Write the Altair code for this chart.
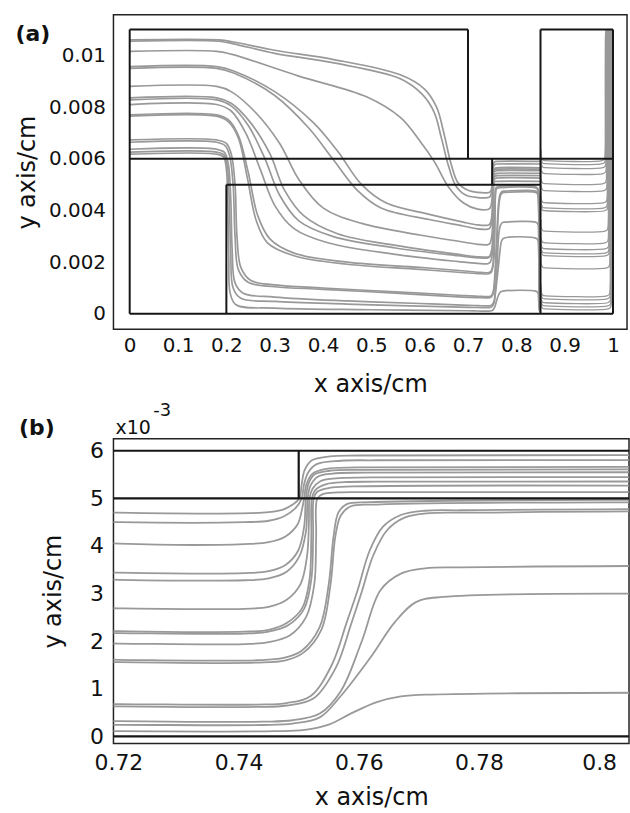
import altair as alt
import pandas as pd

# ---------------- data (x in cm, y in units of 1e-3 cm) ----------------
# streamlines entering at the left inlet, passing the channel, rising at x=0.75
S01 = [(0, 10.6), (0.185, 10.6), (0.215, 10.52), (0.3, 10.2), (0.42, 9.85), (0.56, 9.25), (0.61, 8.7), (0.635, 8.0), (0.65, 7.0), (0.665, 5.8), (0.68, 5.05), (0.70, 4.78), (0.72, 4.7), (0.742, 4.69), (0.745, 4.71), (0.7475, 4.77), (0.749, 4.87), (0.7501, 5.0), (0.7505, 5.3), (0.751, 5.6), (0.7522, 5.8), (0.7552, 5.88), (0.76, 5.9), (0.849, 5.9)]
S02 = [(0, 10.55), (0.185, 10.55), (0.215, 10.45), (0.3, 10.08), (0.42, 9.72), (0.56, 9.1), (0.605, 8.5), (0.63, 7.8), (0.645, 6.8), (0.66, 5.7), (0.675, 4.95), (0.695, 4.6), (0.72, 4.5), (0.741, 4.5), (0.745, 4.53), (0.7475, 4.62), (0.7495, 4.8), (0.7505, 5.0), (0.7509, 5.3), (0.7516, 5.55), (0.753, 5.72), (0.757, 5.79), (0.763, 5.8), (0.849, 5.8)]
S03 = [(0, 10.16), (0.18, 10.16), (0.21, 10.05), (0.35, 9.2), (0.49, 8.4), (0.56, 7.6), (0.6, 6.7), (0.63, 5.9), (0.66, 4.9), (0.69, 4.3), (0.72, 4.05), (0.741, 4.04), (0.745, 4.08), (0.7478, 4.2), (0.7498, 4.45), (0.7506, 4.8), (0.7509, 5.0), (0.7513, 5.3), (0.7523, 5.52), (0.7546, 5.62), (0.76, 5.65), (0.849, 5.65)]
S04 = [(0, 9.57), (0.18, 9.57), (0.215, 9.4), (0.3, 8.6), (0.38, 7.4), (0.43, 6.3), (0.48, 5.0), (0.53, 4.3), (0.62, 3.85), (0.69, 3.55), (0.72, 3.44), (0.741, 3.43), (0.745, 3.47), (0.7478, 3.6), (0.7499, 3.9), (0.7509, 4.4), (0.7512, 5.0), (0.7516, 5.3), (0.7526, 5.5), (0.7551, 5.58), (0.761, 5.6), (0.849, 5.6)]
S05 = [(0, 9.5), (0.18, 9.5), (0.215, 9.32), (0.3, 8.45), (0.37, 7.2), (0.42, 6.0), (0.47, 4.8), (0.52, 4.1), (0.62, 3.65), (0.69, 3.4), (0.72, 3.29), (0.741, 3.28), (0.745, 3.32), (0.748, 3.46), (0.7501, 3.78), (0.7512, 4.3), (0.7515, 5.0), (0.7519, 5.25), (0.7531, 5.45), (0.7556, 5.52), (0.761, 5.54), (0.849, 5.54)]
S06 = [(0, 8.8), (0.18, 8.8), (0.21, 8.6), (0.26, 7.8), (0.31, 6.6), (0.35, 5.2), (0.4, 4.1), (0.48, 3.5), (0.6, 3.05), (0.69, 2.78), (0.72, 2.69), (0.741, 2.68), (0.745, 2.72), (0.748, 2.87), (0.7503, 3.2), (0.7514, 3.8), (0.7517, 4.5), (0.7518, 5.0), (0.7523, 5.2), (0.7536, 5.36), (0.7561, 5.42), (0.762, 5.44), (0.849, 5.44)]
S07 = [(0, 8.36), (0.18, 8.36), (0.21, 8.15), (0.25, 7.4), (0.29, 6.2), (0.32, 4.8), (0.36, 3.8), (0.43, 3.1), (0.55, 2.65), (0.68, 2.3), (0.72, 2.21), (0.741, 2.2), (0.745, 2.24), (0.748, 2.38), (0.7506, 2.7), (0.7518, 3.3), (0.7521, 4.2), (0.7522, 5.0), (0.7528, 5.18), (0.7546, 5.3), (0.7576, 5.34), (0.763, 5.35), (0.849, 5.35)]
S08 = [(0, 8.28), (0.18, 8.28), (0.21, 8.05), (0.245, 7.3), (0.28, 6.0), (0.31, 4.6), (0.35, 3.6), (0.42, 3.0), (0.55, 2.55), (0.68, 2.25), (0.72, 2.17), (0.741, 2.16), (0.745, 2.2), (0.7483, 2.34), (0.7509, 2.68), (0.7521, 3.3), (0.7524, 4.2), (0.7525, 5.0), (0.7531, 5.14), (0.7551, 5.22), (0.759, 5.25), (0.849, 5.25)]
S09 = [(0, 8.1), (0.18, 8.1), (0.21, 7.85), (0.24, 7.0), (0.27, 5.6), (0.3, 4.2), (0.34, 3.3), (0.41, 2.75), (0.55, 2.3), (0.68, 2.02), (0.72, 1.95), (0.741, 1.94), (0.745, 1.98), (0.7485, 2.12), (0.7512, 2.5), (0.7526, 3.2), (0.7529, 4.2), (0.7531, 5.0), (0.754, 5.09), (0.7565, 5.125), (0.762, 5.13), (0.849, 5.13)]
S10 = [(0, 7.7), (0.18, 7.7), (0.205, 7.5), (0.225, 6.9), (0.245, 5.5), (0.265, 3.8), (0.29, 2.9), (0.34, 2.35), (0.45, 2.0), (0.6, 1.8), (0.7, 1.65), (0.72, 1.61), (0.743, 1.6), (0.7475, 1.65), (0.7505, 1.8), (0.7535, 2.3), (0.755, 3.2), (0.7558, 4.2), (0.7566, 4.7), (0.758, 4.88), (0.762, 4.92), (0.84, 4.92), (0.8445, 4.85), (0.8465, 4.5), (0.8475, 3.0), (0.848, 0.6), (0.849, 0.3)]
S11 = [(0, 7.65), (0.18, 7.65), (0.205, 7.42), (0.225, 6.8), (0.243, 5.3), (0.262, 3.6), (0.285, 2.75), (0.34, 2.25), (0.45, 1.92), (0.6, 1.72), (0.7, 1.58), (0.72, 1.56), (0.743, 1.55), (0.7478, 1.6), (0.7508, 1.76), (0.7538, 2.25), (0.7553, 3.2), (0.7561, 4.2), (0.757, 4.64), (0.7586, 4.83), (0.763, 4.87), (0.84, 4.87), (0.8443, 4.8), (0.8463, 4.4), (0.8473, 3.0), (0.8478, 0.6), (0.8488, 0.25)]
S12 = [(0, 6.73), (0.18, 6.73), (0.2, 6.6), (0.21, 6.2), (0.218, 5.0), (0.222, 3.0), (0.23, 1.8), (0.25, 1.3), (0.3, 1.12), (0.4, 1.0), (0.55, 0.85), (0.68, 0.72), (0.72, 0.68), (0.743, 0.67), (0.748, 0.7), (0.752, 0.85), (0.7555, 1.5), (0.758, 2.4), (0.7598, 3.07), (0.7618, 3.9), (0.764, 4.4), (0.767, 4.65), (0.771, 4.74), (0.777, 4.75), (0.84, 4.75), (0.8443, 4.68), (0.846, 4.3), (0.847, 2.5), (0.8475, 0.5), (0.8485, 0.2)]
S13 = [(0, 6.64), (0.18, 6.64), (0.198, 6.5), (0.207, 6.1), (0.214, 5.0), (0.218, 3.0), (0.225, 1.7), (0.245, 1.22), (0.3, 1.05), (0.4, 0.95), (0.55, 0.8), (0.68, 0.66), (0.72, 0.63), (0.743, 0.62), (0.748, 0.65), (0.7525, 0.8), (0.7562, 1.45), (0.7587, 2.35), (0.7604, 3.0), (0.7624, 3.8), (0.7647, 4.33), (0.7677, 4.6), (0.7718, 4.69), (0.778, 4.7), (0.84, 4.7), (0.8441, 4.63), (0.8458, 4.25), (0.8468, 2.5), (0.8473, 0.5), (0.8483, 0.18)]
S14 = [(0, 6.37), (0.18, 6.37), (0.196, 6.25), (0.204, 5.8), (0.209, 4.5), (0.212, 2.5), (0.218, 1.2), (0.235, 0.8), (0.3, 0.65), (0.45, 0.5), (0.6, 0.4), (0.7, 0.33), (0.72, 0.32), (0.744, 0.31), (0.749, 0.34), (0.7535, 0.48), (0.757, 0.95), (0.7605, 2.0), (0.7636, 3.07), (0.767, 3.42), (0.771, 3.53), (0.777, 3.55), (0.84, 3.55), (0.8445, 3.48), (0.846, 3.1), (0.847, 1.8), (0.8478, 0.4), (0.849, 0.15)]
S15 = [(0, 6.26), (0.18, 6.26), (0.195, 6.15), (0.202, 5.7), (0.206, 4.4), (0.209, 2.4), (0.214, 1.0), (0.23, 0.6), (0.3, 0.48), (0.45, 0.38), (0.6, 0.3), (0.7, 0.25), (0.72, 0.245), (0.744, 0.24), (0.749, 0.27), (0.7535, 0.4), (0.757, 0.85), (0.762, 1.67), (0.766, 2.4), (0.7695, 2.82), (0.774, 2.93), (0.84, 2.93), (0.8445, 2.86), (0.846, 2.5), (0.847, 1.4), (0.8478, 0.35), (0.849, 0.12)]
S16 = [(0, 6.18), (0.18, 6.18), (0.194, 6.08), (0.2, 5.6), (0.203, 4.3), (0.205, 2.2), (0.208, 0.8), (0.22, 0.35), (0.3, 0.22), (0.5, 0.16), (0.7, 0.12), (0.72, 0.11), (0.746, 0.11), (0.751, 0.14), (0.755, 0.25), (0.759, 0.5), (0.763, 0.72), (0.767, 0.84), (0.772, 0.88), (0.84, 0.88), (0.8445, 0.82), (0.846, 0.6), (0.8475, 0.15), (0.849, 0.08)]
MAIN_LINES = [S01, S02, S03, S04, S05, S06, S07, S08, S09, S10, S11, S12, S13, S14, S15, S16]

# streamlines of the outlet zone (0.85 < x < 1): level, and x where they turn up
RIGHT_LEVELS = [5.93, 5.81, 5.66, 5.43, 5.04, 4.77, 4.3, 4.1, 3.99, 3.2, 2.75, 2.52, 2.36, 2.25, 1.78, 0.7, 0.58, 0.43, 0.31, 0.19]
RIGHT_RISE_X = [0.984, 0.985, 0.986, 0.9865, 0.987, 0.988, 0.9885, 0.989, 0.99, 0.9905, 0.991, 0.992, 0.9925, 0.993, 0.994, 0.9945, 0.995, 0.996, 0.9965, 0.997]

# black domain boundaries (x1, y1, x2, y2)
WALL_X1 = [0, 0, 0, 0.7, 0, 0.2, 0.2, 0.75, 0.85, 0.85, 1]
WALL_Y1 = [0, 0, 11, 6, 6, 0, 5, 5, 0, 11, 0]
WALL_X2 = [1, 0, 0.7, 0.7, 1, 0.2, 0.85, 0.75, 0.85, 1, 1]
WALL_Y2 = [0, 11, 11, 11, 6, 5, 5, 6, 11, 11, 11]

XA_TICKS = [0, 0.1, 0.2, 0.3, 0.4, 0.5, 0.6, 0.7, 0.8, 0.9, 1]
YA_TICKS = [0, 2, 4, 6, 8, 10]
XB_TICKS = [0.72, 0.74, 0.76, 0.78, 0.8]
YB_TICKS = [0, 1, 2, 3, 4, 5, 6]
PANEL_LABELS = ["(a)", "(b)"]
EXPONENT = ["x10", "-3"]

# ---------------- tables ----------------
rows = []
for k, pts in enumerate(MAIN_LINES):
    for i, (x, y) in enumerate(pts):
        rows.append({"line": f"m{k}", "zone": "main", "i": i, "x": x, "y": y})
for k, (lev, rx) in enumerate(zip(RIGHT_LEVELS, RIGHT_RISE_X)):
    path = [(0.8508, lev + 0.45), (0.8518, lev + 0.12), (0.855, lev + 0.015), (0.86, lev),
            (rx - 0.007, lev), (rx - 0.002, lev + 0.06), (rx - 0.0003, lev + 0.4),
            (rx, lev + 1.2), (rx + 0.0004, 10.7), (rx + 0.0012, 10.97)]
    for i, (x, y) in enumerate(path):
        rows.append({"line": f"r{k}", "zone": "right", "i": i, "x": x, "y": y})
stream = pd.DataFrame(rows)
main_stream = stream[stream["zone"] == "main"]
right_stream = stream[stream["zone"] == "right"]

wrows = []
for k in range(len(WALL_X1)):
    wrows.append({"seg": k, "i": 0, "x": WALL_X1[k], "y": WALL_Y1[k]})
    wrows.append({"seg": k, "i": 1, "x": WALL_X2[k], "y": WALL_Y2[k]})
walls = pd.DataFrame(wrows)

FONT = "DejaVu Sans"
GRAY = "#999999"
BLACK = "#161616"

# ---------------- panel (a) ----------------
xa = alt.X("x:Q", scale=alt.Scale(domain=[-0.0336, 1.029], nice=False, zero=False),
           axis=alt.Axis(values=XA_TICKS, format=".1~f", title="x axis/cm", labelFontSize=20,
                         labelPadding=6, titleX=258, titleY=62, titleBaseline="alphabetic",
                         titleAlign="center"))
ya = alt.Y("y:Q", scale=alt.Scale(domain=[-0.6, 11.57], nice=False, zero=False),
           axis=alt.Axis(values=YA_TICKS,
                         labelExpr="datum.value == 0 ? '0' : format(datum.value / 1000, '~g')",
                         title="y axis/cm", labelFontSize=20, labelPadding=8,
                         titleX=-86, titleY=158, titleBaseline="middle", titleAlign="center",
                         titleAngle=-90))

a_lines = alt.Chart(main_stream).mark_line(interpolate="catmull-rom", color=GRAY, strokeWidth=1.7,
                                           clip=True).encode(x=xa, y=ya, detail="line:N", order="i:Q")
a_right = alt.Chart(right_stream).mark_line(interpolate="catmull-rom", color=GRAY, strokeWidth=1.3,
                                            clip=True).encode(x=xa, y=ya, detail="line:N", order="i:Q")
a_walls = alt.Chart(walls).mark_line(color=BLACK, strokeWidth=2, clip=True).encode(
    x=xa, y=ya, detail="seg:N", order="i:Q")
a_label = alt.Chart(pd.DataFrame({"t": [PANEL_LABELS[0]]})).mark_text(
    font=FONT, fontSize=22, fontWeight="bold", align="center", baseline="middle", color="#111"
).encode(text="t:N", x=alt.value(-81), y=alt.value(19))
panel_a = alt.layer(a_lines, a_right, a_walls, a_label).properties(width=516, height=316)

# ---------------- panel (b) ----------------
xb = alt.X("x:Q", scale=alt.Scale(domain=[0.71917, 0.80497], nice=False, zero=False),
           axis=alt.Axis(values=XB_TICKS, format="~g", title="x axis/cm", labelFontSize=22,
                         labelPadding=9, titleX=259, titleY=61, titleBaseline="alphabetic",
                         titleAlign="center"))
yb = alt.Y("y:Q", scale=alt.Scale(domain=[-0.146, 6.25], nice=False, zero=False),
           axis=alt.Axis(values=YB_TICKS, format="d", title="y axis/cm", labelFontSize=22,
                         labelPadding=10, titleX=-60, titleY=153, titleBaseline="middle",
                         titleAlign="center", titleAngle=-90))

b_lines = alt.Chart(main_stream).mark_line(interpolate="catmull-rom", color=GRAY, strokeWidth=1.8,
                                           clip=True).encode(x=xb, y=yb, detail="line:N", order="i:Q")
b_walls = alt.Chart(walls).mark_line(color=BLACK, strokeWidth=2.2, clip=True).encode(
    x=xb, y=yb, detail="seg:N", order="i:Q")
b_label = alt.Chart(pd.DataFrame({"t": [PANEL_LABELS[1]]})).mark_text(
    font=FONT, fontSize=22, fontWeight="bold", align="center", baseline="middle", color="#111"
).encode(text="t:N", x=alt.value(-77), y=alt.value(-11))
b_exp1 = alt.Chart(pd.DataFrame({"t": [EXPONENT[0]]})).mark_text(
    font=FONT, fontSize=19, align="left", baseline="alphabetic", color="#111"
).encode(text="t:N", x=alt.value(2), y=alt.value(-5))
b_exp2 = alt.Chart(pd.DataFrame({"t": [EXPONENT[1]]})).mark_text(
    font=FONT, fontSize=18, align="left", baseline="alphabetic", color="#111"
).encode(text="t:N", x=alt.value(40), y=alt.value(-23))
panel_b = alt.layer(b_lines, b_walls, b_label, b_exp1, b_exp2).properties(width=518, height=306)

chart = alt.vconcat(panel_a, panel_b, spacing=110, bounds="flush").properties(
    padding={"left": 14, "top": 12, "right": 0, "bottom": 0}, background="white"
).configure_view(stroke="#222", strokeWidth=1.5).configure_axis(
    domain=False, ticks=False, grid=False, labelFont=FONT, titleFont=FONT, labelColor="#111",
    titleColor="#111", titleFontSize=24, titleFontWeight="normal"
)

chart.save("out.html", embed_options={"renderer": "svg", "actions": False})
